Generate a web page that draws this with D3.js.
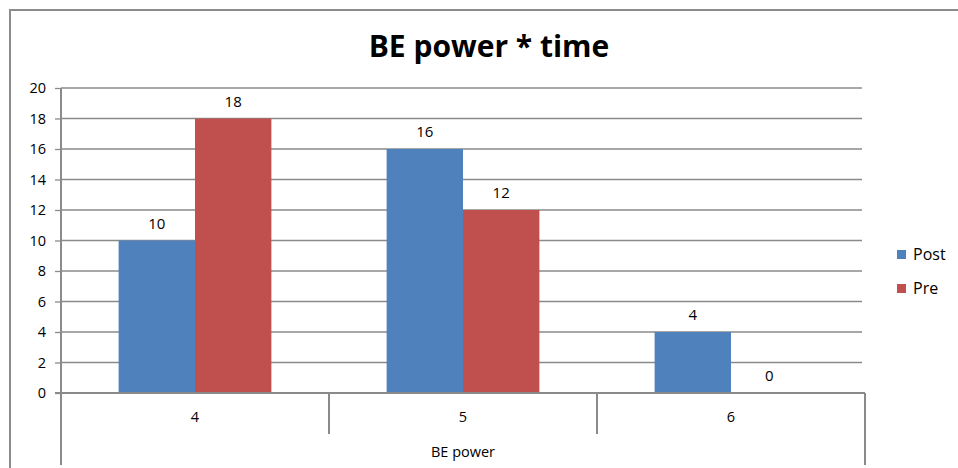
<!DOCTYPE html>
<html><head><meta charset="utf-8">
<script src="https://cdn.jsdelivr.net/npm/d3@7"></script>
<style>body{margin:0;background:#fff;} svg{display:block;}</style>
</head><body>
<svg id="c" width="958" height="468"></svg>
<script>
const title = "BE power * time";
const categories = ["4", "5", "6"];
const seriesNames = ["Post", "Pre"];
const postValues = [10, 16, 4];
const preValues = [18, 12, 0];
const yTicks = [0, 2, 4, 6, 8, 10, 12, 14, 16, 18, 20];
const xAxisTitle = "BE power";
const colors = ["#4F81BD", "#C0504D"];

const svg = d3.select("#c");
const font = "'Open Sans', sans-serif";
const gridColor = "#8a8a8a";

// outer border
svg.append("path").attr("d", "M10,470 L10,10 L960,10")
  .attr("fill", "none").attr("stroke", "#8c8c8c").attr("stroke-width", 2);

const L = 61, R = 865, T = 88, B = 393;
const x = d3.scaleBand().domain(categories).range([L, R]);
const y = d3.scaleLinear().domain([0, 20]).range([B, T]);
const bw = x.bandwidth() * 0.285;
const x1 = d3.scaleBand().domain(seriesNames).range([0, bw * 2]);

// gridlines
svg.append("g").selectAll("line").data(yTicks.filter(d => d > 0)).join("line")
  .attr("x1", L).attr("x2", R - 3).attr("y1", d => y(d)).attr("y2", d => y(d))
  .attr("stroke", gridColor).attr("stroke-width", 1.3);

// y axis
const yAxis = d3.axisLeft(y).tickValues(yTicks).tickSize(6).tickPadding(9);
const gy = svg.append("g").attr("transform", `translate(${L},0)`).call(yAxis);
gy.select(".domain").remove();
gy.selectAll(".tick line").attr("stroke", gridColor).attr("stroke-width", 1.3);
gy.selectAll(".tick text").attr("font-family", font).attr("font-size", 14.5).attr("fill", "#000");
svg.append("line").attr("x1", L).attr("x2", L).attr("y1", T).attr("y2", 465)
  .attr("stroke", gridColor).attr("stroke-width", 2);

// bars
const data = categories.map((c, i) => ({c, vals: [postValues[i], preValues[i]]}));
const groups = svg.append("g").selectAll("g").data(data).join("g")
  .attr("transform", d => `translate(${x(d.c) + (x.bandwidth() - bw * 2) / 2},0)`);
groups.selectAll("rect").data(d => d.vals.map((v, j) => ({v, s: seriesNames[j], j}))).join("rect")
  .attr("x", d => x1(d.s)).attr("width", x1.bandwidth())
  .attr("y", d => y(d.v)).attr("height", d => B - y(d.v))
  .attr("fill", d => colors[d.j]);
groups.selectAll("text").data(d => d.vals.map((v, j) => ({v, s: seriesNames[j]}))).join("text")
  .attr("x", d => x1(d.s) + x1.bandwidth() / 2).attr("y", d => y(d.v) - 12)
  .attr("text-anchor", "middle").attr("font-family", font).attr("font-size", 15)
  .text(d => d.v);

// x axis
svg.append("line").attr("x1", L - 6).attr("x2", R).attr("y1", B).attr("y2", B)
  .attr("stroke", gridColor).attr("stroke-width", 2);
const seps = categories.slice(1).map(c => x(c));
svg.append("g").selectAll("line").data(seps).join("line")
  .attr("x1", d => d).attr("x2", d => d).attr("y1", B).attr("y2", 434)
  .attr("stroke", gridColor).attr("stroke-width", 2);
svg.append("line").attr("x1", R).attr("x2", R).attr("y1", B).attr("y2", 465)
  .attr("stroke", gridColor).attr("stroke-width", 2);
svg.append("g").selectAll("text").data(categories).join("text")
  .attr("x", d => x(d) + x.bandwidth() / 2).attr("y", 422)
  .attr("text-anchor", "middle").attr("font-family", font).attr("font-size", 14.5)
  .text(d => d);
svg.append("text").attr("x", (L + R) / 2).attr("y", 457).attr("text-anchor", "middle")
  .attr("font-family", font).attr("font-size", 14.5).text(xAxisTitle);

// title
svg.append("text").attr("x", 489).attr("y", 57).attr("text-anchor", "middle")
  .attr("font-family", font).attr("font-weight", "bold").attr("font-size", 30).text(title);

// legend
const lg = svg.append("g").selectAll("g").data(seriesNames).join("g")
  .attr("transform", (d, i) => `translate(897,${250 + i * 34})`);
lg.append("rect").attr("width", 9).attr("height", 9).attr("fill", (d, i) => colors[i]);
lg.append("text").attr("x", 16).attr("y", 10).attr("font-family", font).attr("font-size", 16).text(d => d);
</script>
</body></html>
